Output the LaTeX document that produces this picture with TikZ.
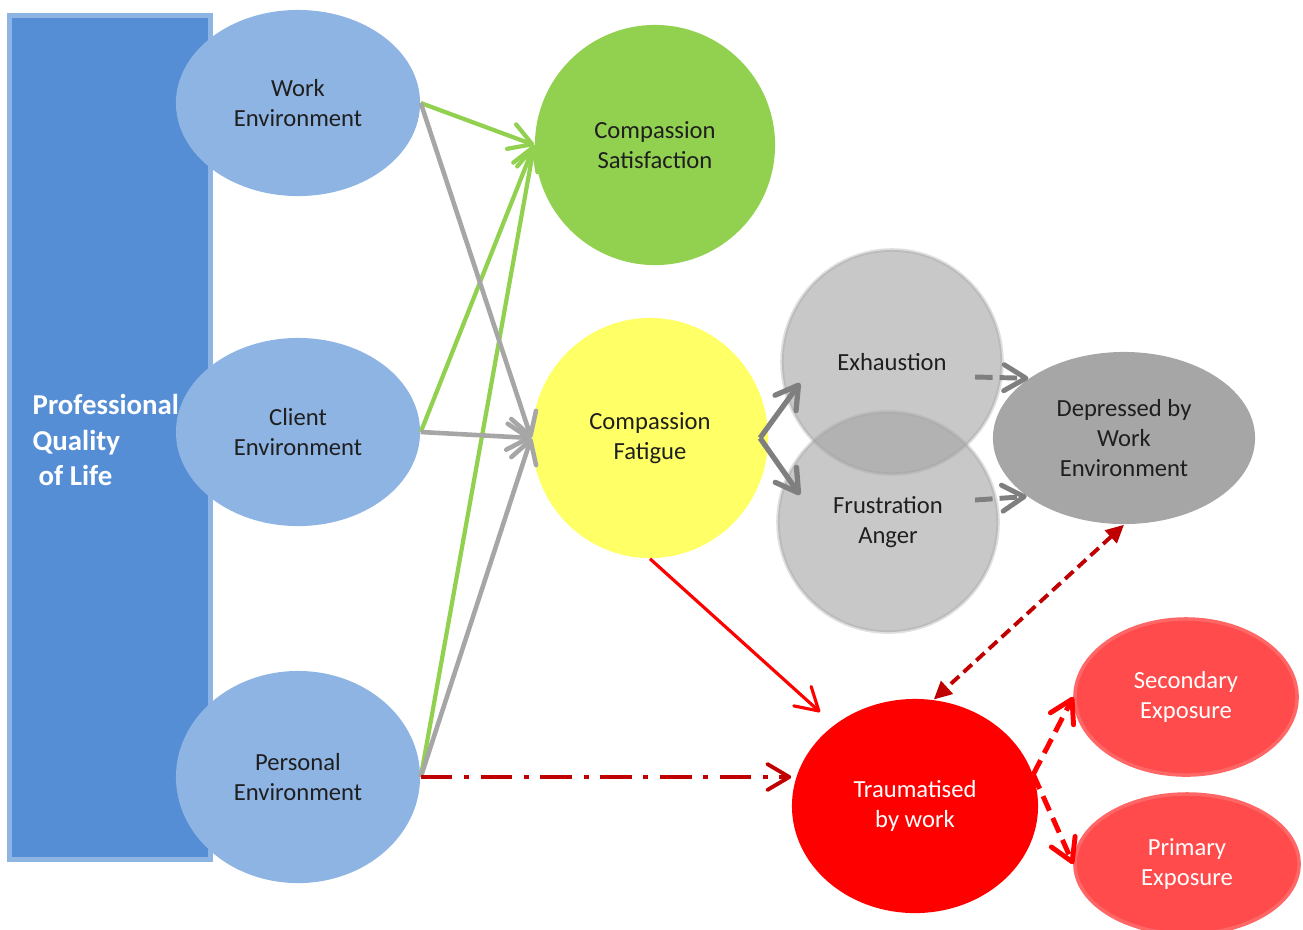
\documentclass[tikz,border=0pt]{standalone}
\usepackage{fontspec}
\setmainfont{Carlito}
\usetikzlibrary{shapes.geometric,arrows.meta,calc}

\definecolor{qolblue}{HTML}{558ED5}
\definecolor{envblue}{HTML}{8EB4E3}
\definecolor{satgreen}{HTML}{92D050}
\definecolor{fatyellow}{HTML}{FFFF66}
\definecolor{burngray}{HTML}{A3A3A3}
\definecolor{depgray}{HTML}{A6A6A6}
\definecolor{linegray}{HTML}{A6A6A6}
\definecolor{forkgray}{HTML}{7F7F7F}
\definecolor{darkred}{HTML}{C00000}
\definecolor{exposred}{HTML}{FF4B4B}

\begin{document}
\begin{tikzpicture}[x=0.01cm,y=-0.01cm,
  every node/.style={font=\fontsize{7}{8.4}\selectfont, align=center, text=black!88},
  blob/.style={ellipse, inner sep=0pt},
  env/.style={blob, fill=envblue, minimum width=2.44cm},
  burn/.style={blob, fill=burngray, fill opacity=0.6, text opacity=1, draw=burngray, draw opacity=0.35, line width=1pt},
  expos/.style={blob, fill=exposred, draw=exposred!85!white, line width=1pt, text=white},
  barb/.style={-{Straight Barb[length=2.2mm,width=2.6mm,round]}},
  greenline/.style={barb, draw=satgreen, line width=1.2pt},
  grayline/.style={barb, draw=linegray, line width=1.3pt},
  forkline/.style={barb, draw=forkgray, line width=1.5pt},
  graydash/.style={barb, draw=forkgray, line width=1.4pt, dash pattern=on 5pt off 2pt},
  redline/.style={barb, draw=red, line width=0.9pt},
  reddash/.style={barb, draw=red, line width=1.4pt, dash pattern=on 4.5pt off 2.3pt},
  twoway/.style={{Triangle[length=1.8mm,width=1.7mm]}-{Triangle[length=1.8mm,width=1.7mm]}, draw=darkred, line width=1.1pt, dash pattern=on 3.2pt off 1.7pt},
  dashdot/.style={barb, draw=darkred, line width=1.1pt, dash pattern=on 9pt off 3.3pt on 1.4pt off 3.3pt}]

\useasboundingbox (0,0) rectangle (1303,929);

\draw[fill=qolblue, draw=envblue, line width=0.05cm] (9.5,15.5) rectangle (210.5,859.5);

\node[env, minimum height=1.86cm] (work) at (298,103) {Work\\Environment};
\node[env, minimum height=1.88cm] (client) at (298,432) {Client\\Environment};
\node[env, minimum height=2.12cm] (personal) at (298,777) {Personal\\Environment};
\node[blob, fill=satgreen, minimum width=2.4cm, minimum height=2.4cm] (cs) at (655,145) {Compassion\\Satisfaction};
\node[blob, fill=fatyellow, minimum width=2.36cm, minimum height=2.4cm] (cf) at (650,438) {Compassion\\Fatigue};
\node[burn, minimum width=2.2cm, minimum height=2.24cm] (exh) at (892,362) {Exhaustion};
\node[burn, minimum width=2.2cm, minimum height=2.2cm] (frust) at (888,522) {Frustration\\Anger};
\node[blob, fill=depgray, minimum width=2.62cm, minimum height=1.72cm] (dep) at (1124,438) {Depressed by\\Work\\Environment};
\node[blob, fill=red, text=white, minimum width=2.46cm, minimum height=2.14cm] (trau) at (915,806) {Traumatised\\by work};
\node[expos, minimum width=2.22cm, minimum height=1.56cm] (sec) at (1186,697) {Secondary\\Exposure};
\node[expos, minimum width=2.24cm, minimum height=1.4cm] (prim) at (1187,864) {Primary\\Exposure};

\draw[greenline] (work.east) -- (cs.west);
\draw[greenline] (client.east) -- (cs.west);
\draw[greenline] (personal.east) -- (cs.west);
\draw[grayline] (work.east) -- (cf.west);
\draw[grayline] (client.east) -- (cf.west);
\draw[grayline] (personal.east) -- (cf.west);

\coordinate (fork) at ($(cf.center)+(110,0)$);
\draw[forkline] (fork) -- ($(exh.center)+(-92,21)$);
\draw[forkline] (fork) -- ($(frust.center)+(-88,-27)$);
\draw[graydash] ($(exh.center)+(83,15)$) -- (dep.148);
\draw[graydash] ($(frust.center)+(87,-22)$) -- (dep.211);

\draw[redline] (cf.south) -- ($(trau.center)+(-95,-94)$);
\draw[twoway] (dep.south) -- (trau.80);
\draw[dashdot] (personal.east) -- (personal.east -| trau.west);
\draw[reddash] (trau.15) -- (sec.west);
\draw[reddash] (trau.15) -- (prim.west);

\node[anchor=west, align=left, inner sep=0pt, text=white, font=\fontsize{8.2}{10}\selectfont\bfseries] (qol) at (32,440) {Professional\\Quality\\\hspace{0.06cm}of Life};
\end{tikzpicture}
\end{document}
